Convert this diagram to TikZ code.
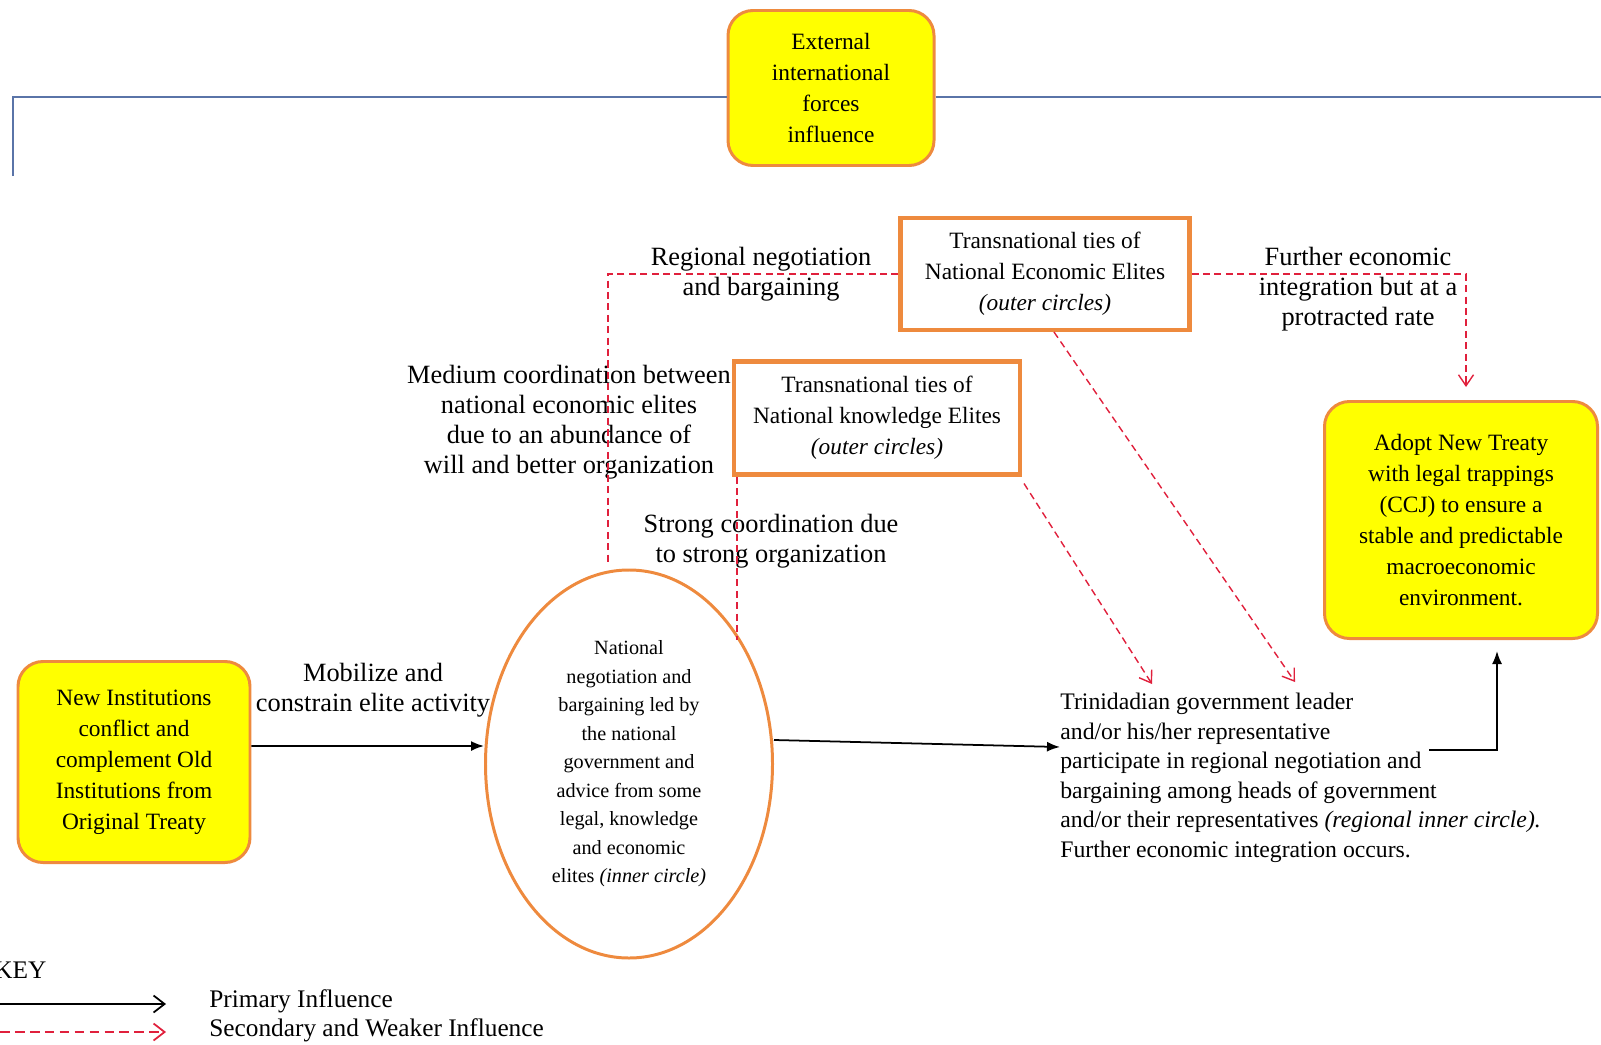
\documentclass[tikz,border=0pt]{standalone}
\usepackage{fontspec}
\setmainfont{Liberation Serif}
\usetikzlibrary{positioning,shapes.geometric,arrows.meta}

\definecolor{boxorange}{HTML}{EE8A3E}
\definecolor{boxyellow}{HTML}{FFFF00}
\definecolor{dashred}{HTML}{E0203C}
\definecolor{frameblue}{HTML}{5A74A8}

\tikzset{
  yellowbox/.style={draw=boxorange, fill=boxyellow, line width=1.7pt, rounded corners=5mm,
    align=center, inner sep=0pt, font=\fontsize{13.3}{17.7}\selectfont},
  tiebox/.style={draw=boxorange, fill=white, line width=2.3pt, align=center, inner sep=0pt,
    font=\fontsize{13.3}{17.7}\selectfont},
  lbl/.style={align=center, inner sep=0pt, font=\fontsize{15}{17}\selectfont},
  primary/.style={line width=1pt, -{Latex[length=2.6mm,width=2mm]}},
  redline/.style={draw=dashred, line width=0.8pt, dash pattern=on 4pt off 2.5pt},
  secondary/.style={redline, -{Straight Barb[length=2.2mm,width=3mm]}}
}

\begin{document}
\begin{tikzpicture}[x=0.2mm, y=-0.2mm]
        \useasboundingbox (0,0) rectangle (1601,1045);

        % the boxes
        \node[yellowbox, minimum width=41.2mm, minimum height=31mm] (ext) at (831,88)
            {External\\international\\forces\\influence};
        \node[tiebox, minimum width=57.8mm, minimum height=22.4mm] (eco) at (1045,274)
            {Transnational ties of\\National Economic Elites\\\textit{(outer circles)}};
        \node[tiebox, minimum width=57.2mm, minimum height=22.6mm] (kno) at (877,418)
            {Transnational ties of\\National knowledge Elites\\\textit{(outer circles)}};
        \node[yellowbox, minimum width=54.6mm, minimum height=47.4mm] (adopt) at (1461,520)
            {Adopt New Treaty\\with legal trappings\\(CCJ) to ensure a\\stable and predictable\\macroeconomic\\environment.};
        \node[yellowbox, minimum width=46.4mm, minimum height=40.2mm] (ni) at (134,762)
            {New Institutions\\conflict and\\complement Old\\Institutions from\\Original Treaty};
        \node[ellipse, draw=boxorange, line width=1.7pt, minimum width=57.4mm, minimum height=77.6mm,
            inner sep=0pt, align=center, font=\fontsize{11.5}{16.2}\selectfont] (nat) at (629,764)
            {National\\negotiation and\\bargaining led by\\the national\\government and\\advice from some\\legal, knowledge\\and economic\\elites \textit{(inner circle)}};
        \node[anchor=west, align=left, inner sep=0pt, font=\fontsize{13.5}{16.8}\selectfont] (tri) at (1060,778)
            {Trinidadian government leader\\and/or his/her representative\\participate in regional negotiation and\\bargaining among heads of government\\and/or their representatives \textit{(regional inner circle).}\\Further economic integration occurs.};

        % the labels
        \node[lbl] (mob) at (373,690) {Mobilize and\\constrain elite activity};
        \node[lbl] (reg) at (761,274) {Regional negotiation\\and bargaining};
        \node[lbl] (med) at (569,422) {Medium coordination between\\national economic elites\\due to an abundance of\\will and better organization};
        \node[lbl] (strong) at (771,541) {Strong coordination due\\to strong organization};
        \node[lbl] (further) at (1358,289) {Further economic\\integration but at a\\protracted rate};

        % the blue frame from the external forces
        \coordinate (fl) at (13,97);
        \coordinate (fr) at (1601,97);
        \draw[frameblue, line width=0.8pt] (13,176) -- (fl) -- (fl -| ext.west);
        \draw[frameblue, line width=0.8pt] (ext.east |- fr) -- (fr);

        % primary influence
        \draw[primary] ([yshift=3.2mm]ni.east) -- ([yshift=3.6mm]nat.west);
        \draw[primary] ([yshift=4.8mm]nat.east) -- ([yshift=6.2mm]tri.west);
        \coordinate (tr) at (1429,750);
        \draw[primary] (tr) -| ([xshift=7.2mm,yshift=-2.2mm]adopt.south);

        % secondary influence
        \draw[redline] (eco.west) -| ([yshift=0.8mm]nat.north -| 608,0);
        \draw[redline] ([xshift=1mm]kno.south west) -- ([xshift=1mm]kno.south west |- nat.48);
        \draw[secondary] (eco.east) -| ([xshift=1mm,yshift=2.6mm]adopt.north);
        \coordinate (a1) at (1152,684);
        \coordinate (a2) at (1295,682);
        \draw[secondary] ([xshift=0.4mm,yshift=-1.4mm]kno.south east) -- (a1);
        \draw[secondary] ([xshift=1.8mm]eco.south) -- (a2);

        % the key
        \node[anchor=west, inner sep=0pt, font=\fontsize{14.4}{17}\selectfont] (key) at (-6,970) {KEY};
        \node[anchor=west, inner sep=0pt, font=\fontsize{14.4}{17}\selectfont] (kp) at (209,1001) {Primary Influence};
        \node[anchor=west, inner sep=0pt, font=\fontsize{14.4}{17}\selectfont] (ks) at (209,1030) {Secondary and Weaker Influence};
        \coordinate (kp0) at (0,1004);
        \coordinate (ks0) at (0,1032);
        \draw[line width=1pt, -{Straight Barb[length=2.2mm,width=3.4mm]}] (kp0) -- (kp0 -| 166,0);
        \draw[redline, line width=1pt, dash pattern=on 5.5pt off 3pt, -{Straight Barb[length=2.2mm,width=3.4mm]}] (ks0) -- (ks0 -| 166,0);
\end{tikzpicture}
\end{document}
